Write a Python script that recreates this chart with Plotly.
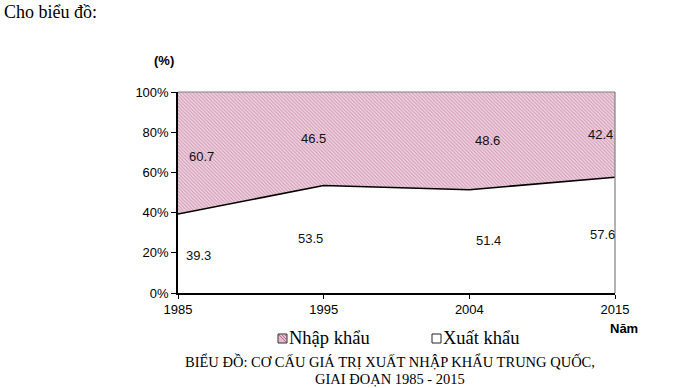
import plotly.graph_objects as go

years = ["1985", "1995", "2004", "2015"]
xuat_khau = [39.3, 53.5, 51.4, 57.6]
nhap_khau = [60.7, 46.5, 48.6, 42.4]
y_ticks = [0, 20, 40, 60, 80, 100]
y_tick_text = ["0%", "20%", "40%", "60%", "80%", "100%"]
series_names = ["Nhập khẩu", "Xuất khẩu"]

# label offsets (pixels) for the value labels
nk_xshift = [23, -10, 18, -15]
nk_yshift = [-3, 0, 0, 0]
xk_xshift = [20, -13, 19, -13]
xk_yshift = [-2, 1, 1, 1]

W, H = 680, 388
L, R, T, B = 178, 65, 92, 95
PW, PH = W - L - R, H - T - B


def px(x):
    return (x - L) / PW


def py(y):
    return (H - B - y) / PH


PAT_FG = "#b05080"
PAT_BG = "#efd6e2"
SERIF = "Liberation Serif, Times New Roman, serif"
SANS = "Liberation Sans, Arial, sans-serif"

fig = go.Figure()

fig.add_trace(go.Scatter(
    x=list(range(len(years))), y=xuat_khau, stackgroup="one", mode="lines",
    line=dict(color="black", width=1.6), fillcolor="white",
    showlegend=False, hoverinfo="skip"))
fig.add_trace(go.Scatter(
    x=list(range(len(years))), y=nhap_khau, stackgroup="one", mode="lines",
    line=dict(color="rgba(0,0,0,0)", width=0),
    fillpattern=dict(shape="\\", fgcolor=PAT_FG, bgcolor=PAT_BG, size=2.5, solidity=0.4),
    showlegend=False, hoverinfo="skip"))

ann = []
for i in range(len(years)):
    ann.append(dict(x=i, y=xuat_khau[i] + nhap_khau[i] / 2, text=f"{nhap_khau[i]:.1f}",
                    xshift=nk_xshift[i], yshift=nk_yshift[i], showarrow=False,
                    xanchor="center", yanchor="middle",
                    font=dict(family=SANS, size=13, color="#111")))
    ann.append(dict(x=i, y=xuat_khau[i] / 2, text=f"{xuat_khau[i]:.1f}",
                    xshift=xk_xshift[i], yshift=xk_yshift[i], showarrow=False,
                    xanchor="center", yanchor="middle",
                    font=dict(family=SANS, size=13, color="#111")))

ann += [
    dict(xref="paper", yref="paper", x=px(164), y=py(60), text="<b>(%)</b>", showarrow=False,
         xanchor="center", yanchor="middle", font=dict(family=SANS, size=13, color="black")),
    dict(xref="paper", yref="paper", x=px(624), y=py(328), text="<b>Năm</b>", showarrow=False,
         xanchor="center", yanchor="middle", font=dict(family=SANS, size=13, color="black")),
    dict(xref="paper", yref="paper", x=px(2), y=py(12), xanchor="left", yanchor="middle",
         text="Cho biểu đồ:", showarrow=False, font=dict(family=SERIF, size=18, color="black")),
    dict(xref="paper", yref="paper", x=px(390), y=py(361), xanchor="center", yanchor="middle",
         text="BIỂU ĐỒ: CƠ CẤU GIÁ TRỊ XUẤT NHẬP KHẨU TRUNG QUỐC,",
         showarrow=False, font=dict(family=SERIF, size=14.5, color="black")),
    dict(xref="paper", yref="paper", x=px(390), y=py(379), xanchor="center", yanchor="middle",
         text="GIAI ĐOẠN 1985 - 2015",
         showarrow=False, font=dict(family=SERIF, size=14.5, color="black")),
    # legend texts
    dict(xref="paper", yref="paper", x=px(287), y=py(338), xanchor="left", yanchor="middle",
         text=series_names[0], showarrow=False, font=dict(family=SERIF, size=18.5, color="black")),
    dict(xref="paper", yref="paper", x=px(441), y=py(338), xanchor="left", yanchor="middle",
         text=series_names[1], showarrow=False, font=dict(family=SERIF, size=18.5, color="black")),
]

shapes = [
    dict(type="line", xref="paper", yref="paper", x0=0, x1=1, y0=1, y1=1,
         line=dict(color="#808080", width=1.2)),
    dict(type="line", xref="paper", yref="paper", x0=1, x1=1, y0=0, y1=1,
         line=dict(color="#808080", width=1.2)),
    # legend icons
    dict(type="rect", xref="paper", yref="paper", x0=px(278), x1=px(287), y0=py(343), y1=py(334),
         fillcolor="#e3bccd", line=dict(color="#333333", width=1)),
    dict(type="rect", xref="paper", yref="paper", x0=px(432), x1=px(441), y0=py(343), y1=py(334),
         fillcolor="white", line=dict(color="#222222", width=1)),
]
for k in range(3):
    off = k * 3
    shapes.append(dict(type="line", xref="paper", yref="paper",
                       x0=px(279 + off), y0=py(335), x1=px(286), y1=py(342 - off),
                       line=dict(color=PAT_FG, width=0.8)))

fig.update_layout(
    width=W, height=H,
    margin=dict(l=L, r=R, t=T, b=B),
    paper_bgcolor="white", plot_bgcolor="white",
    showlegend=False,
    annotations=ann,
    shapes=shapes,
)

fig.update_xaxes(range=[0, len(years) - 1], tickvals=list(range(len(years))), ticktext=years,
                 showgrid=False, zeroline=False,
                 showline=True, linecolor="black", linewidth=1.5,
                 ticks="outside", ticklen=4, tickcolor="black",
                 tickfont=dict(family=SANS, size=13, color="black"))
fig.update_yaxes(range=[0, 100], tickvals=y_ticks, ticktext=y_tick_text,
                 showgrid=False, zeroline=False,
                 showline=True, linecolor="black", linewidth=1.5,
                 ticks="outside", ticklen=5, tickcolor="black",
                 tickfont=dict(family=SANS, size=13, color="black"))

fig.write_html("out.html", config={"displayModeBar": False},
               post_script="document.body.style.margin='0';")
